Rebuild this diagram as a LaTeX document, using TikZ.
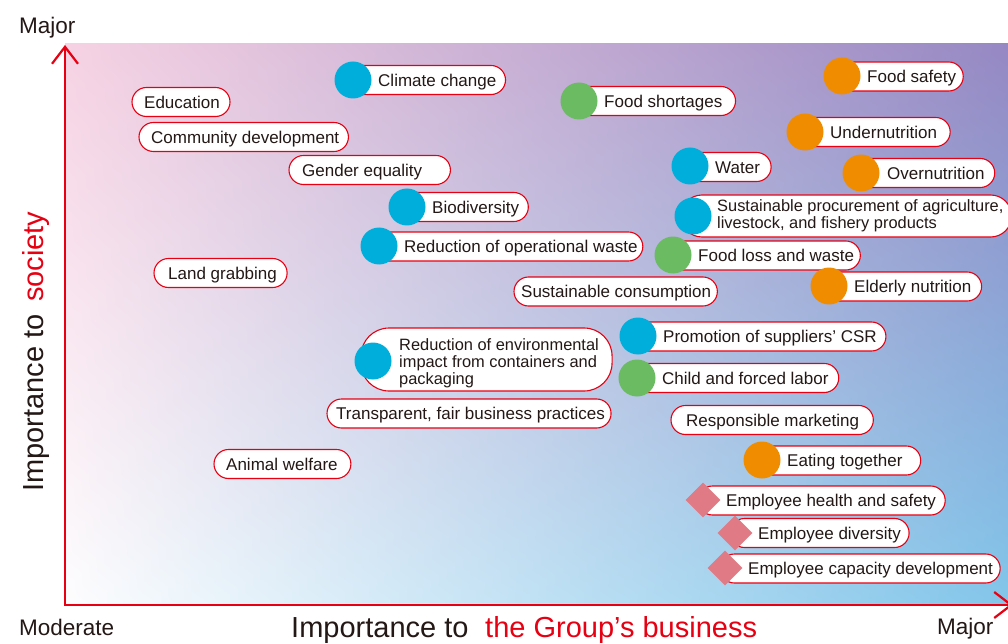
\documentclass[tikz,border=0pt]{standalone}
\usepackage{fontspec}
\setmainfont{Liberation Sans}
\usetikzlibrary{calc,shapes.geometric,arrows.meta,shadings}
\definecolor{cred}{RGB}{230,0,18}
\definecolor{cblue}{RGB}{0,174,219}
\definecolor{cgreen}{RGB}{106,187,98}
\definecolor{corange}{RGB}{240,140,0}
\definecolor{cdia}{RGB}{224,122,132}
\definecolor{ctxt}{RGB}{35,24,21}
\definecolor{gtl}{RGB}{246,210,227}
\definecolor{gtr}{RGB}{150,136,195}
\definecolor{gbl}{RGB}{253,253,254}
\definecolor{gbr}{RGB}{130,198,234}
\pgfdeclarelayer{bg}
\pgfdeclarelayer{boxes}
\pgfsetlayers{bg,boxes,main}
\tikzset{
  lt/.style={font=\fontsize{17}{17}\selectfont, text=ctxt, inner sep=0pt, anchor=west, text height=12.2pt, text depth=0pt},
  ltm/.style={font=\fontsize{16.4}{16.8}\selectfont, text=ctxt, inner sep=0pt, anchor=west, align=left},
  bx/.style={draw=cred, fill=white, line width=1.1pt, rounded corners=14.5pt},
  dot/.style={circle, inner sep=0pt, minimum size=37pt},
  dia/.style={diamond, inner sep=0pt, minimum width=35pt, minimum height=35pt, fill=cdia},
  axl/.style={font=\fontsize{22.5}{22.5}\selectfont, text=ctxt, inner sep=0pt, anchor=base west},
  ttl/.style={font=\fontsize{29}{29}\selectfont, inner sep=0pt, anchor=base west},
  axisline/.style={draw=cred, line width=2.2pt},
}
\newcommand{\bitem}[6]{%
  \node[lt] (#1) at (#2,#3) {#6};
  \begin{pgfonlayer}{boxes}
    \draw[bx] ($(#1.west)+(-#4,-14.5)$) rectangle ($(#1.east)+(#5,14.5)$);
  \end{pgfonlayer}}
\begin{document}
\begin{tikzpicture}[x=1pt,y=-1pt]
\useasboundingbox (0,0) rectangle (1008,644);
\clip (0,0) rectangle (1008,644);
\begin{pgfonlayer}{bg}
  \fill[white] (0,0) rectangle (1008,644);
  \shade[upper left=gtl, upper right=gtr, lower left=gbl, lower right=gbr] (65,44) rectangle (1008,605);
\end{pgfonlayer}

% axes
\coordinate (O) at (65,605);
\coordinate (YT) at (65,45);
\coordinate (XR) at (1013,605);
\draw[axisline, {Straight Barb[length=17pt,width=26pt]}-{Straight Barb[length=17pt,width=26pt]}] (YT) -- (O) -- (XR);

% axis labels
\node[axl] (mj) at (19,34) {Major};
\node[axl] (md) at (19,635) {Moderate};
\node[axl] (mj2) at (937,634) {Major};
\node[ttl, text=ctxt] (ib) at (291,637) {Importance to};
\node[ttl, text=cred] (gb) at (485,637) {the Group’s business};
\node[ttl, text=ctxt, rotate=90] (is) at (43.5,492) {Importance to};
\node[ttl, text=cred, rotate=90] (so) at (43.5,302) {society};

% plain labels
\bitem{edu}{144}{102}{12}{10}{Education}
\bitem{cd}{151}{137}{12}{9}{Community development}
\bitem{ge}{302}{170}{13}{28}{Gender equality}
\bitem{lg}{168}{273}{14}{10}{Land grabbing}
\bitem{sc}{521}{291.5}{7}{6}{Sustainable consumption}
\bitem{tf}{336}{413.5}{9}{6}{Transparent, fair business practices}
\bitem{rm}{686}{420}{15}{14}{Responsible marketing}
\bitem{aw}{226}{464}{12}{13}{Animal welfare}

% labels with circles
\bitem{cc}{378}{80}{37}{9}{Climate change}
\bitem{fs}{604}{101}{37}{13}{Food shortages}
\bitem{fsa}{867}{76.5}{37}{7}{Food safety}
\bitem{un}{830}{132}{37}{13}{Undernutrition}
\bitem{wa}{715}{167}{37}{11}{Water}
\bitem{ov}{887}{173}{37}{10}{Overnutrition}
\bitem{bd}{432}{207}{37}{9}{Biodiversity}
\bitem{ow}{404}{246.5}{37}{5}{Reduction of operational waste}
\bitem{fl}{698}{255.5}{37}{6}{Food loss and waste}
\bitem{en}{854}{286.5}{37}{10}{Elderly nutrition}
\bitem{ps}{663}{336.5}{37}{9}{Promotion of suppliers’ CSR}
\bitem{cf}{662}{378}{37}{10}{Child and forced labor}
\bitem{et}{787}{460.5}{37}{18}{Eating together}

% multi-line labels
\node[ltm] (sp) at (717,216) {Sustainable procurement of agriculture,\\livestock, and fishery products};
\begin{pgfonlayer}{boxes}
  \draw[bx, rounded corners=21pt] ($(sp.west)+(-36,-21)$) rectangle ($(sp.east)+(8,21)$);
\end{pgfonlayer}
\node[ltm] (re) at (399,363.5) {Reduction of environmental\\impact from containers and\\packaging};
\begin{pgfonlayer}{boxes}
  \draw[bx, rounded corners=28pt] ($(re.west)+(-38,-35.5)$) rectangle ($(re.east)+(13,27.5)$);
\end{pgfonlayer}

% labels with diamonds
\bitem{eh}{726}{500.5}{28}{9}{Employee health and safety}
\bitem{ed}{758}{533}{28}{8}{Employee diversity}
\bitem{ec}{748}{568.5}{28}{7}{Employee capacity development}

% markers
\node[dot, fill=cblue] (cc-m) at (353,80) {};
\node[dot, fill=cgreen] (fs-m) at (579,101) {};
\node[dot, fill=corange] (fsa-m) at (842,76) {};
\node[dot, fill=corange] (un-m) at (805,132) {};
\node[dot, fill=cblue] (wa-m) at (690,166) {};
\node[dot, fill=corange] (ov-m) at (861,173) {};
\node[dot, fill=cblue] (bd-m) at (407,207) {};
\node[dot, fill=cblue] (sp-m) at (693,216) {};
\node[dot, fill=cblue] (ow-m) at (379,246) {};
\node[dot, fill=cgreen] (fl-m) at (673,255) {};
\node[dot, fill=corange] (en-m) at (829,286) {};
\node[dot, fill=cblue] (ps-m) at (638,336) {};
\node[dot, fill=cblue] (re-m) at (373,361) {};
\node[dot, fill=cgreen] (cf-m) at (637,378) {};
\node[dot, fill=corange] (et-m) at (762,460) {};
\node[dia] (eh-m) at (703,500) {};
\node[dia] (ed-m) at (735,533) {};
\node[dia] (ec-m) at (725,568) {};
\end{tikzpicture}
\end{document}
